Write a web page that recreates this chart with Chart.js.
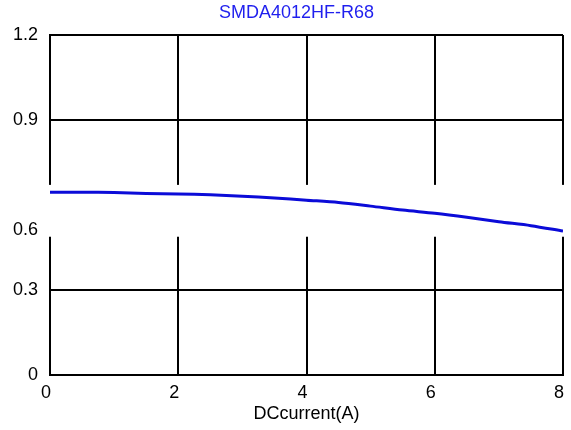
<!DOCTYPE html>
<html>
<head>
<meta charset="utf-8">
<script src="https://cdn.jsdelivr.net/npm/chart.js@4"></script>
<style>
  html, body { margin: 0; padding: 0; background: #fff; }
  #wrap { width: 571px; height: 430px; }
</style>
</head>
<body>
<div id="wrap"><canvas id="lChart" width="571" height="430"></canvas></div>
<script>
// DC current (A) and inductance
const currents = [0, 0.5, 1, 1.5, 2, 2.5, 3, 3.5, 4, 4.5, 5, 5.5, 6, 6.5, 7, 7.5, 8];
const inductance = [0.645, 0.645, 0.644, 0.641, 0.639, 0.636, 0.631, 0.625, 0.617, 0.609, 0.596, 0.582, 0.571, 0.557, 0.541, 0.527, 0.508];
const yTicks = [0, 0.3, 0.6, 0.9, 1.2];
const xTicks = [0, 2, 4, 6, 8];
const chartTitle = "SMDA4012HF-R68";
// white band across the plot (in y values) and where the stray "0.6" label sits
const bandRange = [0.488, 0.671];
const movedLabel = { text: "0.6", value: 0.512 };

const FONT = "'Liberation Sans', Arial, sans-serif";

// title plus the blank strip over the grid, like the original
const extrasPlugin = {
  id: "extras",
  beforeDatasetsDraw(chart) {
    const { ctx, chartArea, scales } = chart;
    const y1 = scales.y.getPixelForValue(bandRange[1]);
    const y0 = scales.y.getPixelForValue(bandRange[0]);
    ctx.save();
    ctx.fillStyle = "#fff";
    ctx.fillRect(chartArea.left - 3, y1, chartArea.right - chartArea.left + 6, y0 - y1);
    ctx.fillStyle = "#000";
    ctx.font = "18px " + FONT;
    ctx.textAlign = "right";
    ctx.textBaseline = "middle";
    ctx.fillText(movedLabel.text, chartArea.left - 12, scales.y.getPixelForValue(movedLabel.value));
    ctx.fillStyle = "#1f1fee";
    ctx.textAlign = "center";
    ctx.fillText(chartTitle, (chartArea.left + chartArea.right) / 2 - 10, 13);
    ctx.restore();
  }
};

new Chart(document.getElementById("lChart").getContext("2d"), {
  type: "line",
  data: {
    datasets: [{
      data: currents.map((c, i) => ({ x: c, y: inductance[i] })),
      borderColor: "#0b0bd8",
      borderWidth: 3,
      pointRadius: 0,
      fill: false,
      tension: 0.3
    }]
  },
  options: {
    responsive: false,
    animation: false,
    layout: { padding: { left: 0, right: 8, top: 35, bottom: 0 } },
    plugins: {
      legend: { display: false },
      tooltip: { enabled: false },
      title: { display: false }
    },
    scales: {
      x: {
        type: "linear",
        min: 0,
        max: 8,
        afterBuildTicks: (s) => { s.ticks = xTicks.map((v) => ({ value: v })); },
        afterFit: (s) => { s.height = 55; s.paddingRight = 0; },
        grid: { color: "#000", lineWidth: 2, drawTicks: false },
        border: { color: "#000", width: 2 },
        ticks: { color: "#000", padding: 7, labelOffset: -4, font: { family: FONT, size: 18 } },
        title: {
          display: true,
          text: "DCcurrent(A)",
          color: "#000",
          font: { family: FONT, size: 18 },
          padding: { top: 0, bottom: 5 }
        }
      },
      y: {
        min: 0,
        max: 1.2,
        afterBuildTicks: (s) => { s.ticks = yTicks.map((v) => ({ value: v })); },
        afterFit: (s) => { s.width = 50; },
        grid: { color: "#000", lineWidth: 2, drawTicks: false },
        border: { color: "#000", width: 2 },
        ticks: {
          color: "#000",
          padding: 12,
          font: { family: FONT, size: 18 },
          callback: (v) => (v === 0.6 ? "" : String(v))
        }
      }
    }
  },
  plugins: [extrasPlugin]
});
</script>
</body>
</html>
